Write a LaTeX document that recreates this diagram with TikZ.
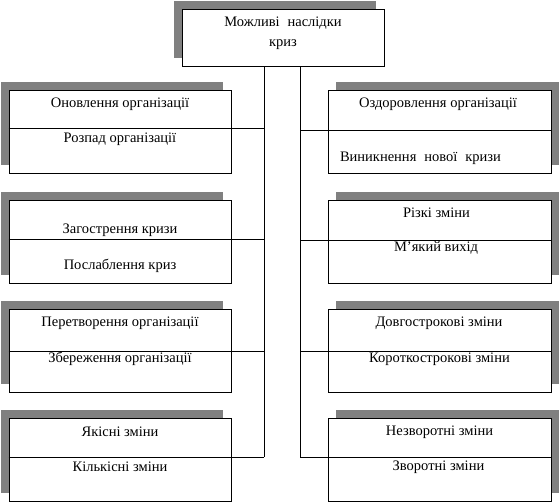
\documentclass[tikz,border=0pt]{standalone}
\usepackage{fontspec}
\setmainfont{Liberation Serif}
\newfontfamily\widefont[WordSpace=2.2]{Liberation Serif}
\usetikzlibrary{shadows}
\definecolor{shadowgray}{RGB}{128,128,128}

\begin{document}
\begin{tikzpicture}[x=1pt,y=-1pt,line width=0.8pt,
  box/.style={draw,fill=white,minimum width=222pt,minimum height=83pt,inner sep=0pt},
  lbox/.style={box,general shadow={shadow xshift=-8.5pt,shadow yshift=8pt,fill=shadowgray}},
  rbox/.style={box,general shadow={shadow xshift=8pt,shadow yshift=8pt,fill=shadowgray}},
  txt/.style={font=\fontsize{14.5}{20}\selectfont,inner sep=0pt}]
  \useasboundingbox (0,0) rectangle (560,502);
  % top box
  \node[lbox,minimum width=202pt,minimum height=57pt] (top) at (283,37.5) {};
  \node[txt,font=\widefont\fontsize{14.5}{20}\selectfont,align=center] (toptxt) at (283,33) {Можливі наслідки\\криз};
  % left column
  \node[lbox] (l1) at (120,131.5) {};
  \node[lbox] (l2) at (120,241.5) {};
  \node[lbox] (l3) at (120,350.5) {};
  \node[lbox] (l4) at (120,459.5) {};
  % right column
  \node[rbox,minimum width=223pt] (r1) at (439.5,131.5) {};
  \node[rbox,minimum width=223pt] (r2) at (439.5,241.5) {};
  \node[rbox,minimum width=223pt] (r3) at (439.5,350.5) {};
  \node[rbox,minimum width=223pt] (r4) at (439.5,459.5) {};
  % dividers and spines
  \coordinate (dl1) at (264,128); \coordinate (dl2) at (264,239);
  \coordinate (dl3) at (264,351); \coordinate (dl4) at (264,457);
  \coordinate (dr1) at (300,130); \coordinate (dr2) at (300,240);
  \coordinate (dr3) at (300,351); \coordinate (dr4) at (300,457);
  \draw (top.south -| dl4) -- (dl4); \draw (top.south -| dr4) -- (dr4);
  \draw (l1.west |- dl1) -- (dl1); \draw (r1.east |- dr1) -- (dr1);
  \draw (l2.west |- dl2) -- (dl2); \draw (r2.east |- dr2) -- (dr2);
  \draw (l3.west |- dl3) -- (dl3); \draw (r3.east |- dr3) -- (dr3);
  \draw (l4.west |- dl4) -- (dl4); \draw (r4.east |- dr4) -- (dr4);
  % texts
  \node[txt] (l1a) at (120,104) {Оновлення організації};
  \node[txt] (l1b) at (120,139) {Розпад організації};
  \node[txt] (l2a) at (120,230) {Загострення кризи};
  \node[txt] (l2b) at (120,266) {Послаблення криз};
  \node[txt] (l3a) at (120,323) {Перетворення організації};
  \node[txt] (l3b) at (120,359) {Збереження організації};
  \node[txt] (l4a) at (120,432) {Якісні зміни};
  \node[txt] (l4b) at (120,467) {Кількісні зміни};
  \node[txt] (r1a) at (438,104) {Оздоровлення організації};
  \node[txt,font=\widefont\fontsize{14.5}{20}\selectfont] (r1b) at (420.5,158) {Виникнення нової кризи};
  \node[txt] (r2a) at (436.5,213) {Різкі зміни};
  \node[txt] (r2b) at (436,248) {М’який вихід};
  \node[txt] (r3a) at (439,323) {Довгострокові зміни};
  \node[txt] (r3b) at (439.5,359) {Короткострокові зміни};
  \node[txt] (r4a) at (439.5,432) {Незворотні зміни};
  \node[txt] (r4b) at (438.5,467) {Зворотні зміни};
\end{tikzpicture}
\end{document}
